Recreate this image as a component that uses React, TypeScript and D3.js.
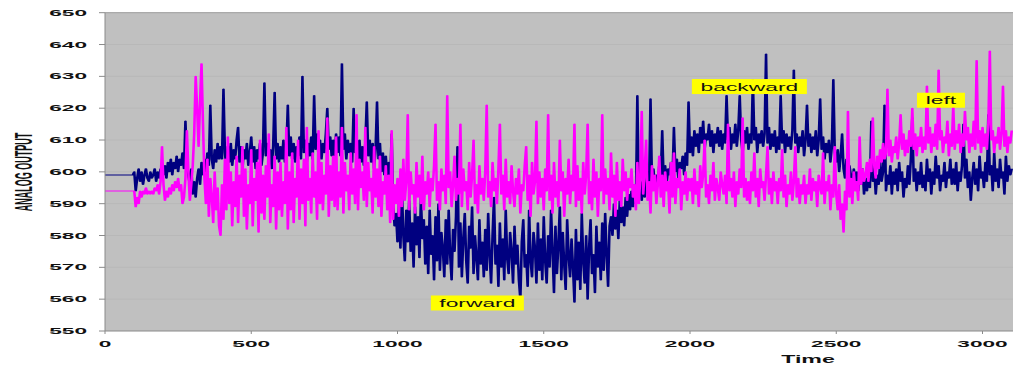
import * as d3 from 'd3'

// sampled every 5 time units, starting at t = 0 (one row = 100 time units)
const timeStep = 5

const navySeries = [
    599, 599, 599, 599, 599, 599, 599, 599, 599, 599, 599, 599, 599, 599, 599, 599, 599, 599, 599, 599,
    600, 594, 598, 601, 597, 600, 596, 599, 601, 598, 597, 600, 598, 599, 601, 597, 600, 598, 601, 599,
    599, 602, 598, 603, 600, 604, 599, 603, 601, 605, 600, 604, 602, 606, 601, 616, 603, 599, 596, 601,
    593, 597, 592, 598, 601, 596, 603, 599, 604, 600, 606, 602, 621, 604, 601, 607, 603, 609, 604, 608,
    604, 626, 606, 601, 608, 603, 609, 602, 607, 604, 610, 614, 603, 608, 601, 607, 604, 609, 602, 606,
    611, 603, 608, 601, 607, 604, 609, 602, 606, 628, 605, 609, 603, 607, 601, 608, 625, 604, 609, 603,
    608, 604, 610, 603, 607, 621, 605, 611, 604, 609, 603, 608, 605, 611, 604, 630, 606, 610, 603, 609,
    605, 611, 604, 624, 607, 612, 605, 610, 604, 609, 606, 612, 620, 607, 611, 605, 610, 604, 612, 606,
    611, 605, 634, 607, 612, 604, 610, 606, 609, 603, 620, 606, 611, 604, 610, 603, 608, 602, 609, 622,
    605, 610, 603, 609, 601, 607, 622, 604, 609, 600, 606, 599, 605, 598, 603, 596, 612, 590, 583, 587,
    578, 590, 576, 595, 580, 572, 588, 578, 591, 575, 584, 570, 589, 577, 586, 573, 592, 579, 585, 571,
    583, 568, 588, 574, 580, 566, 586, 572, 590, 569, 581, 576, 567, 585, 571, 588, 574, 566, 582, 575,
    586, 608, 570, 584, 567, 579, 587, 572, 565, 583, 576, 589, 568, 580, 573, 566, 585, 571, 578, 567,
    582, 569, 587, 574, 565, 580, 592, 571, 577, 564, 584, 570, 579, 566, 588, 573, 568, 581, 575, 565,
    583, 571, 577, 566, 560, 578, 585, 570, 574, 564, 588, 572, 567, 581, 576, 565, 584, 569, 579, 566,
    586, 572, 565, 580, 570, 588, 575, 562, 583, 568, 577, 589, 566, 581, 571, 563, 585, 574, 567, 579,
    570, 559, 582, 566, 578, 563, 587, 572, 565, 580, 560, 576, 585, 568, 574, 562, 583, 570, 578, 566,
    584, 569, 587, 574, 564, 583, 586, 580, 590, 582, 588, 579, 591, 584, 589, 583, 592, 586, 593, 588,
    594, 589, 596, 590, 624, 593, 597, 591, 598, 592, 596, 600, 594, 623, 597, 601, 595, 599, 596, 602,
    598, 613, 597, 602, 596, 601, 599, 603, 597, 614, 600, 604, 598, 603, 601, 605, 599, 606, 602, 622,
    606, 611, 605, 613, 608, 612, 606, 614, 609, 616, 607, 612, 610, 615, 608, 613, 606, 612, 609, 614,
    608, 613, 607, 612, 609, 624, 610, 614, 607, 612, 609, 615, 608, 613, 624, 610, 606, 613, 609, 614,
    607, 612, 609, 629, 610, 614, 606, 612, 609, 613, 608, 612, 637, 609, 614, 607, 612, 608, 613, 606,
    611, 607, 624, 609, 613, 606, 612, 608, 611, 607, 613, 632, 609, 612, 606, 611, 608, 613, 605, 610,
    621, 608, 612, 606, 611, 607, 613, 605, 610, 623, 607, 611, 604, 609, 606, 610, 603, 608, 629, 606,
    603, 607, 600, 605, 612, 601, 598, 604, 597, 602, 599, 595, 601, 597, 600, 594, 599, 596, 601, 593,
    598, 594, 600, 595, 616, 597, 601, 593, 599, 596, 603, 597, 600, 621, 594, 599, 596, 602, 593, 600,
    596, 601, 594, 603, 597, 600, 592, 598, 595, 602, 596, 604, 617, 597, 601, 594, 600, 596, 603, 595,
    599, 594, 604, 597, 601, 593, 600, 596, 605, 598, 602, 594, 599, 597, 603, 595, 600, 598, 604, 596,
    601, 596, 603, 594, 600, 597, 602, 615, 598, 604, 595, 600, 591, 598, 603, 596, 601, 594, 605, 598,
    600, 595, 603, 597, 618, 599, 602, 594, 606, 597, 601, 595, 604, 598, 600, 593, 605, 597, 602, 599,
    601,
]

const magentaSeries = [
    594, 594, 594, 594, 594, 594, 594, 594, 594, 594, 594, 594, 594, 594, 594, 594, 594, 594, 594, 594,
    594, 589, 592, 590, 594, 592, 594, 593, 595, 593, 594, 593, 594, 593, 595, 594, 596, 593, 597, 608,
    596, 591, 594, 592, 595, 593, 596, 594, 597, 595, 598, 594, 596, 590, 592, 598, 613, 600, 591, 596,
    602, 612, 630, 620, 608, 622, 634, 615, 598, 590, 604, 586, 598, 592, 584, 600, 588, 595, 583, 580,
    596, 585, 604, 588, 611, 590, 600, 583, 597, 589, 605, 584, 599, 592, 608, 586, 601, 582, 596, 590,
    607, 583, 598, 591, 603, 581, 610, 587, 599, 585, 602, 592, 612, 584, 596, 589, 605, 582, 600, 588,
    603, 586, 597, 590, 614, 582, 600, 588, 606, 584, 598, 592, 610, 585, 601, 590, 604, 583, 614, 591,
    598, 587, 606, 592, 600, 585, 613, 590, 603, 588, 599, 593, 617, 586, 602, 591, 605, 589, 611, 588,
    600, 592, 614, 587, 603, 594, 599, 588, 606, 593, 601, 590, 618, 588, 604, 595, 600, 591, 614, 589,
    603, 594, 598, 587, 608, 592, 601, 589, 605, 586, 597, 593, 602, 588, 599, 584, 613, 585, 596, 590,
    598, 586, 601, 589, 604, 591, 597, 618, 588, 600, 593, 596, 587, 603, 592, 599, 590, 605, 588, 597,
    593, 600, 589, 598, 594, 602, 615, 591, 597, 588, 601, 594, 599, 590, 624, 595, 600, 589, 596, 605,
    591, 598, 593, 615, 589, 601, 594, 597, 588, 603, 592, 599, 610, 590, 596, 587, 602, 593, 598, 591,
    600, 621, 592, 597, 589, 603, 594, 598, 590, 601, 615, 593, 599, 588, 604, 592, 597, 590, 602, 594,
    589, 598, 593, 601, 587, 596, 594, 602, 608, 591, 599, 586, 603, 593, 597, 616, 590, 600, 592, 598,
    588, 601, 594, 618, 591, 599, 587, 603, 592, 597, 589, 610, 594, 600, 586, 598, 593, 604, 590, 599,
    594, 615, 589, 602, 591, 598, 587, 603, 593, 599, 615, 590, 597, 588, 604, 592, 600, 586, 598, 594,
    618, 590, 601, 593, 598, 588, 606, 592, 599, 586, 603, 591, 597, 589, 604, 594, 600, 591, 598, 595,
    601, 592, 596, 588, 603, 590, 598, 619, 593, 600, 610, 591, 597, 587, 602, 594, 599, 590, 596, 605,
    592, 599, 589, 600, 594, 597, 587, 603, 592, 606, 590, 598, 595, 601, 588, 597, 593, 600, 591, 598,
    594, 598, 590, 601, 593, 597, 589, 602, 595, 599, 610, 592, 596, 590, 599, 594, 603, 591, 598, 595,
    591, 600, 596, 593, 599, 590, 615, 594, 598, 592, 600, 589, 597, 593, 601, 595, 617, 592, 598, 591,
    597, 590, 600, 594, 606, 592, 598, 589, 601, 595, 597, 591, 599, 608, 593, 598, 590, 600, 594, 597,
    590, 598, 594, 607, 592, 599, 589, 596, 593, 600, 591, 597, 608, 592, 598, 590, 596, 593, 599, 590,
    596, 593, 601, 591, 598, 594, 597, 589, 599, 595, 593, 606, 590, 597, 594, 599, 588, 596, 592, 608,
    593, 588, 596, 585, 590, 581, 594, 588, 619, 592, 598, 590, 600, 594, 597, 591, 611, 596, 601, 597,
    599, 603, 597, 604, 600, 617, 602, 598, 605, 601, 607, 603, 609, 604, 606, 626, 605, 610, 603, 608,
    606, 611, 604, 609, 618, 607, 612, 605, 610, 606, 613, 608, 620, 607, 612, 605, 611, 608, 614, 606,
    611, 607, 627, 609, 614, 606, 612, 608, 615, 607, 632, 610, 613, 606, 611, 609, 616, 605, 612, 608,
    621, 607, 613, 609, 615, 606, 612, 608, 619, 610, 614, 606, 612, 608, 616, 607, 635, 609, 613, 606,
    614, 608, 612, 607, 615, 638, 610, 613, 606, 611, 609, 614, 607, 612, 627, 608, 613, 606, 611, 609,
    613,
]

const yTicks = [550, 560, 570, 580, 590, 600, 610, 620, 630, 640, 650]
const xTicks = [0, 500, 1000, 1500, 2000, 2500, 3000]

const noteLabels = ['forward', 'backward', 'left']
const noteTimes = [1273, 2203, 2858]
const noteValues = [558.8, 626.8, 622.5]
const noteBoxWidths = [93, 115, 48]

const width = 1013
const height = 367
const plotLeft = 105
const plotTop = 12.7
const plotBottom = 331
// the original picture was stretched sideways; lines keep that look
const stretch = 2.6
const font = 'Arial, "Liberation Sans", sans-serif'

export default function App() {
    const x = d3.scaleLinear().domain([0, 3000]).range([plotLeft, 982.5])
    const y = d3.scaleLinear().domain([550, 650]).range([plotBottom, plotTop])
    const xs = x.copy().range(x.range().map((d) => d / stretch))

    const line = d3
        .line<number>()
        .x((_, i) => xs(i * timeStep))
        .y((d) => y(d))

    return (
        <svg
            width={width}
            height={height}
            style={{ position: 'absolute', left: 0, top: 0, background: 'white' }}
        >
            <defs>
                <clipPath id="plot">
                    <rect x={plotLeft} y={plotTop} width={width - plotLeft} height={plotBottom - plotTop} />
                </clipPath>
            </defs>
            <rect x={plotLeft} y={plotTop} width={width - plotLeft} height={plotBottom - plotTop} fill="#c0c0c0" />
            {yTicks.slice(1, -1).map((t) => (
                <line key={t} x1={plotLeft} x2={width} y1={y(t)} y2={y(t)} stroke="#b8b8b8" strokeWidth={1} />
            ))}
            <line x1={plotLeft} x2={width} y1={plotTop} y2={plotTop} stroke="#9a9a9a" strokeWidth={1} />

            <g clipPath="url(#plot)">
                <g transform={`scale(${stretch},1)`}>
                    <path d={line(navySeries) ?? ''} fill="none" stroke="#000080" strokeWidth={1} strokeLinejoin="round" />
                    <path d={line(magentaSeries) ?? ''} fill="none" stroke="#ff00ff" strokeWidth={1} strokeLinejoin="round" />
                </g>
            </g>

            {/* axes */}
            <line x1={plotLeft} x2={plotLeft} y1={plotTop} y2={plotBottom} stroke="#8a8a8a" />
            <line x1={plotLeft} x2={width} y1={plotBottom} y2={plotBottom} stroke="#8a8a8a" />
            {yTicks.map((t) => (
                <g key={t}>
                    <line x1={plotLeft - 6} x2={plotLeft} y1={y(t)} y2={y(t)} stroke="#8a8a8a" />
                    <text
                        transform={`translate(87,${y(t) + 3}) scale(2.7,1)`}
                        textAnchor="end"
                        fontFamily={font}
                        fontWeight="bold"
                        fontSize={8.4}
                        fill="#111"
                    >
                        {t}
                    </text>
                </g>
            ))}
            {xTicks.map((t) => (
                <g key={t}>
                    <line x1={x(t)} x2={x(t)} y1={plotBottom} y2={plotBottom + 3} stroke="#8a8a8a" />
                    <text
                        transform={`translate(${x(t)},347) scale(2.7,1)`}
                        textAnchor="middle"
                        fontFamily={font}
                        fontWeight="bold"
                        fontSize={8.4}
                        fill="#111"
                    >
                        {t}
                    </text>
                </g>
            ))}
            <text
                transform="translate(808,363) scale(2,1)"
                textAnchor="middle"
                fontFamily={font}
                fontWeight="bold"
                fontSize={11.6}
                fill="#111"
            >
                Time
            </text>
            <text
                transform="translate(32,172) rotate(-90) scale(1,2.64)"
                textAnchor="middle"
                fontFamily={font}
                fontWeight="bold"
                fontSize={9}
                fill="#111"
            >
                ANALOG OUTPUT
            </text>

            {/* annotations */}
            {noteLabels.map((label, i) => {
                const cx = x(noteTimes[i])
                const cy = y(noteValues[i])
                return (
                    <g key={label}>
                        <rect x={cx - noteBoxWidths[i] / 2} y={cy - 7.5} width={noteBoxWidths[i]} height={15} fill="#ffff00" />
                        <text
                            transform={`translate(${cx},${cy + 4}) scale(2,1)`}
                            textAnchor="middle"
                            fontFamily={font}
                            fontSize={11.4}
                            fill="#111"
                        >
                            {label}
                        </text>
                    </g>
                )
            })}
        </svg>
    )
}
